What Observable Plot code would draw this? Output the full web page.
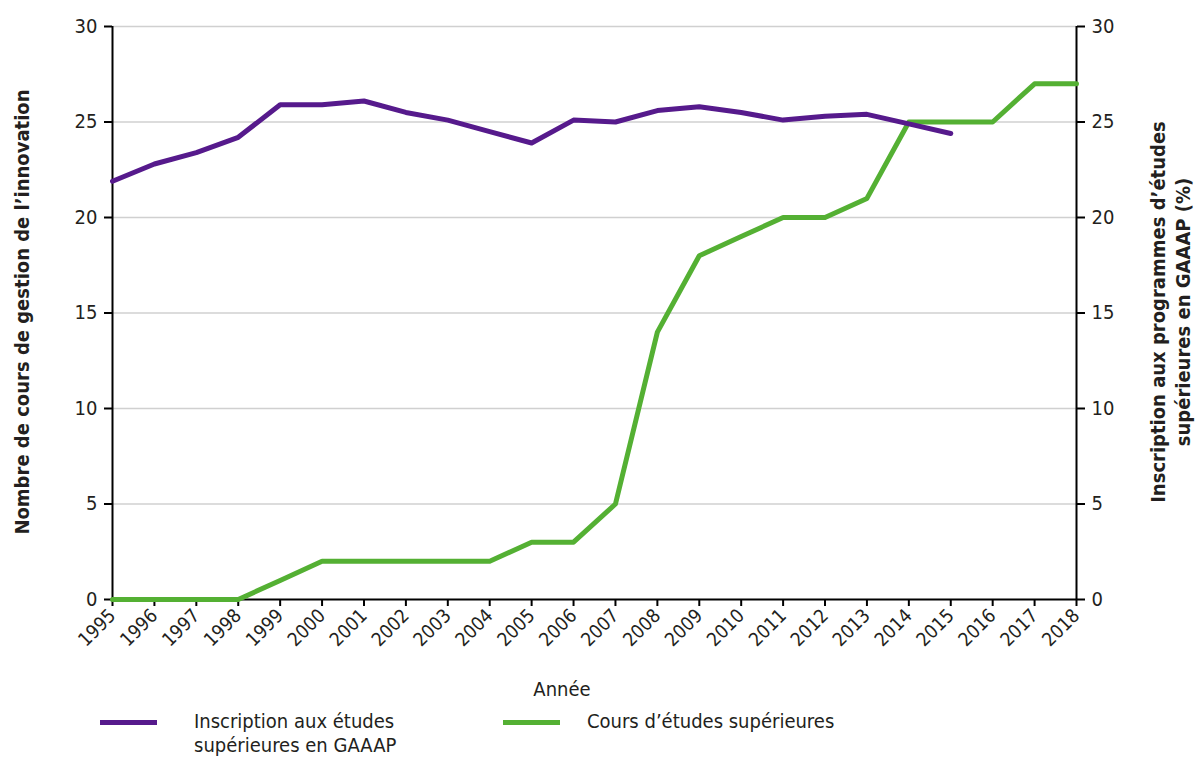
<!DOCTYPE html>
<html><head><meta charset="utf-8">
<script src="https://cdn.jsdelivr.net/npm/d3@7"></script>
<script src="https://cdn.jsdelivr.net/npm/@observablehq/plot@0.6"></script>
<style>
body{margin:0;background:#fff;font-family:"DejaVu Sans Condensed","Liberation Sans Narrow",sans-serif;color:#231f20;}
#legend{position:relative;height:59px;font-size:20px;}
.item{position:absolute;top:4px;display:flex;align-items:flex-start;}
.sw{width:57px;height:5px;margin-top:11px;}
</style></head><body>
<div id="chart"></div>
<div id="legend"></div>
<script>
const years = [1995,1996,1997,1998,1999,2000,2001,2002,2003,2004,2005,2006,2007,2008,2009,2010,2011,2012,2013,2014,2015,2016,2017,2018];
const enrolment = [21.9,22.8,23.4,24.2,25.9,25.9,26.1,25.5,25.1,24.5,23.9,25.1,25.0,25.6,25.8,25.5,25.1,25.3,25.4,24.9,24.4,null,null,null];
const courses = [0,0,0,0,1,2,2,2,2,2,3,3,5,14,18,19,20,20,21,25,25,25,27,27];
const yTicks = [0,5,10,15,20,25,30];
const seriesNames = ["Inscription aux études\nsupérieures en GAAAP","Cours d’études supérieures"];
const colors = ["#561a8c","#54b033"];
const leftLabel = "Nombre de cours de gestion de l’innovation";
const rightLabel = ["Inscription aux programmes d’études","supérieures en GAAAP (%)"];
const xLabel = "Année";

const enrolData = years.map((y,i)=>({year:y,v:enrolment[i]})).filter(d=>d.v!=null);
const courseData = years.map((y,i)=>({year:y,v:courses[i]}));

const font = '"DejaVu Sans Condensed","Liberation Sans Narrow",sans-serif';
const chart = Plot.plot({
  width:1201, height:705,
  marginLeft:112, marginRight:125, marginTop:26, marginBottom:106,
  style:{fontFamily:font,fontSize:"20px",color:"#231f20",background:"#fff"},
  x:{domain:[1995,2018]},
  y:{domain:[0,30]},
  marks:[
    Plot.gridY(yTicks.slice(1),{stroke:"#d0d0d0",strokeOpacity:1,strokeWidth:1.5}),
    Plot.axisY(yTicks,{anchor:"left",tickSize:8,tickPadding:7,label:null,stroke:"#000",strokeWidth:2,fontSize:20}),
    Plot.axisY(yTicks,{anchor:"right",tickSize:8,tickPadding:7,label:null,stroke:"#000",strokeWidth:2,fontSize:20}),
    Plot.axisX(years,{tickSize:7,tickRotate:-45,tickFormat:d=>String(d),tickPadding:6,label:null,stroke:"#000",strokeWidth:2,fontSize:19}),
    Plot.ruleY([0],{stroke:"#000",strokeWidth:2}),
    Plot.ruleX([1995],{stroke:"#000",strokeWidth:2}),
    Plot.ruleX([2018],{stroke:"#000",strokeWidth:2}),
    Plot.lineY(courseData,{x:"year",y:"v",stroke:colors[1],strokeWidth:5}),
    Plot.lineY(enrolData,{x:"year",y:"v",stroke:colors[0],strokeWidth:5}),
  ]
});
document.getElementById("chart").appendChild(chart);
const svg = d3.select(chart);
svg.append("text").attr("transform","translate(29,312) rotate(-90)").attr("text-anchor","middle")
  .style("font-weight","bold").style("font-size","20px").text(leftLabel);
const rt = svg.append("text").attr("transform","translate(1165,312) rotate(-90)").attr("text-anchor","middle")
  .style("font-weight","bold").style("font-size","20px");
rt.selectAll("tspan").data(rightLabel).join("tspan").attr("x",0).attr("dy",(d,i)=>i?"1.25em":"0").text(d=>d);
svg.append("text").attr("x",562).attr("y",696).attr("text-anchor","middle").style("font-size","20px").text(xLabel);

const leg = document.getElementById("legend");
const lefts=[100,503];
const gaps=[37,27];
seriesNames.forEach((n,i)=>{
  const it=document.createElement("div");it.className="item";it.style.left=lefts[i]+"px";
  const sw=document.createElement("div");sw.className="sw";sw.style.background=colors[i];sw.style.marginRight=gaps[i]+"px";
  const tx=document.createElement("div");tx.style.whiteSpace="pre";tx.style.lineHeight="24px";tx.textContent=n;
  it.appendChild(sw);it.appendChild(tx);leg.appendChild(it);
});
</script>
</body></html>
